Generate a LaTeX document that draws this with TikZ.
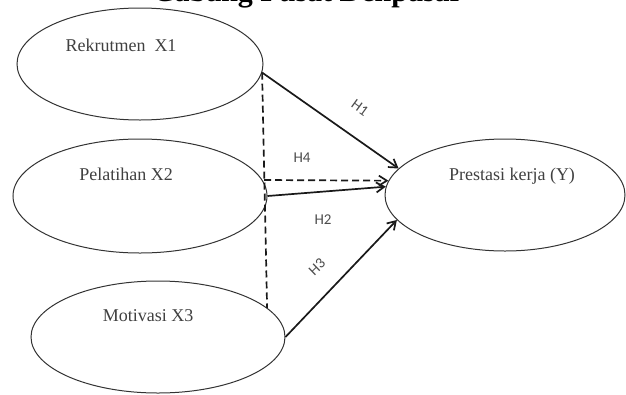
\documentclass[tikz,border=0pt]{standalone}
\usepackage{fontspec}
\setmainfont{Liberation Serif}
\newfontfamily\hypfont{Carlito}
\usetikzlibrary{shapes.geometric,arrows.meta}
\tikzset{
	varbox/.style={ellipse, draw=black!80, line width=1pt, inner sep=0pt},
	vartext/.style={font=\fontsize{18}{20}\selectfont, text=black!75},
	hyplabel/.style={font=\hypfont\fontsize{15}{17}\selectfont, text=black!70},
	link/.style={line width=1.7pt, draw=black!90, -{Straight Barb[length=8pt,width=10pt]}},
	joint/.style={line width=1.7pt, draw=black!90, dash pattern=on 7pt off 4pt}
}
\begin{document}
\begin{tikzpicture}[x=1pt,y=-1pt]
	\useasboundingbox (0,0) rectangle (626,394);
	\clip (0,0) rectangle (626,394);
	\node (title) at (308,1) [anchor=base, font=\bfseries\fontsize{30}{32}\selectfont] {Cabang Pusat Denpasar};
	\node (X1) at (140, 64)	[varbox, minimum width=246, minimum height=112]	{};
	\node (X2) at (140,196)	[varbox, minimum width=254, minimum height=114]	{};
	\node (X3) at (158,337)	[varbox, minimum width=254, minimum height=112]	{};
	\node (Y)  at (505,195)	[varbox, minimum width=240, minimum height=112]	{};
	\node (T1) at (121, 45)	[vartext]	{Rekrutmen\ \ X1};
	\node (T2) at (126,174)	[vartext]	{Pelatihan X2};
	\node (T3) at (148,316)	[vartext]	{Motivasi X3};
	\node (TY) at (512,176)	[vartext]	{Prestasi kerja (Y)};
	\coordinate (D4) at (264,180);
	\draw[joint] (X1.-4) -- (X3.15);
	\draw[link] (X1.-4) -- (Y.166);
	\draw[link, joint] (D4) -- (Y.173);
	\draw[link] (X2.east) -- (Y.176);
	\draw[link] (X3.east) -- (Y.193);
	\node (H1) at (360,108)	[hyplabel, rotate=-36]	{H1};
	\node (H4) at (302,158)	[hyplabel]	{H4};
	\node (H2) at (323,220)	[hyplabel]	{H2};
	\node (H3) at (317,267)	[hyplabel, rotate=44]	{H3};
\end{tikzpicture}
\end{document}
